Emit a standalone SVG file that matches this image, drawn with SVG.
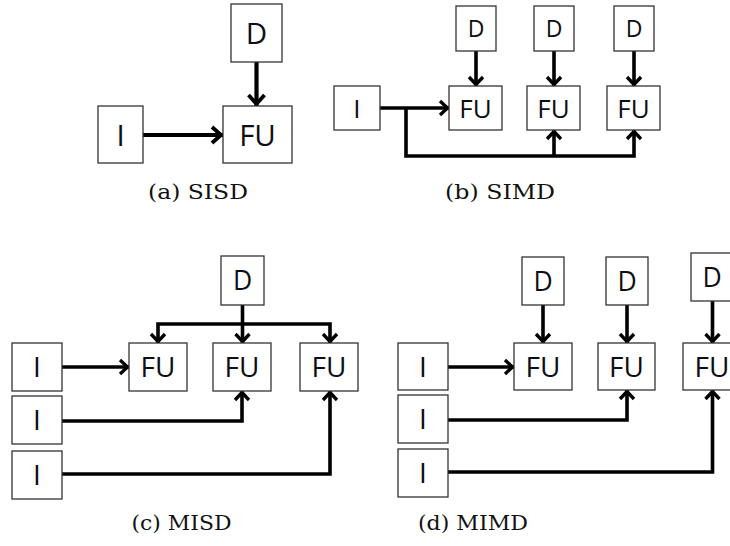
<svg xmlns="http://www.w3.org/2000/svg" width="730" height="546" viewBox="0 0 730 546">
<style>
.box{fill:#fff;stroke:#333;stroke-width:1.3}
.t{font-family:"Open Sans","Liberation Sans",sans-serif;fill:#0d0d14;text-anchor:middle}
.w{fill:none;stroke:#000;stroke-width:3.6}
.wl{fill:none;stroke:#000;stroke-width:4.2}
.cap{font-family:"DejaVu Serif","Liberation Serif",serif;font-size:20.5px;fill:#111;text-anchor:middle}
</style>
<defs>
<marker id="ah" markerUnits="userSpaceOnUse" viewBox="-14 -10 16 20" markerWidth="16" markerHeight="20" refX="0" refY="0" orient="auto-start-reverse">
<path d="M-9,-7 L-1.5,0 L-9,7" fill="none" stroke="#000" stroke-width="3.3"/>
</marker>
<marker id="ahL" markerUnits="userSpaceOnUse" viewBox="-16 -12 18 24" markerWidth="18" markerHeight="24" refX="0" refY="0" orient="auto">
<path d="M-11,-8 L-2,0 L-11,8" fill="none" stroke="#000" stroke-width="3.8"/>
</marker>
</defs>

<g id="connectors">
<!-- SISD -->
<line class="wl" x1="143" y1="135" x2="223" y2="135" marker-end="url(#ahL)"/>
<line class="wl" x1="256.5" y1="62" x2="256.5" y2="106" marker-end="url(#ahL)"/>
<!-- SIMD -->
<line class="w" x1="380" y1="108" x2="449" y2="108" marker-end="url(#ah)"/>
<path class="w" d="M406,108 V156 H634 V130" marker-end="url(#ah)"/>
<line class="w" x1="554" y1="156" x2="554" y2="130" marker-end="url(#ah)"/>
<line class="w" x1="476" y1="51" x2="476" y2="86" marker-end="url(#ah)"/>
<line class="w" x1="554" y1="51" x2="554" y2="86" marker-end="url(#ah)"/>
<line class="w" x1="634" y1="51" x2="634" y2="86" marker-end="url(#ah)"/>
<!-- MISD -->
<line class="w" x1="242.5" y1="305" x2="242.5" y2="343" marker-end="url(#ah)"/>
<path class="w" d="M158,343 V324 H330 V343" marker-start="url(#ah)" marker-end="url(#ah)"/>
<line class="w" x1="62" y1="367" x2="129" y2="367" marker-end="url(#ah)"/>
<path class="w" d="M62,421 H242 V391" marker-end="url(#ah)"/>
<path class="w" d="M62,474 H330 V391" marker-end="url(#ah)"/>
<!-- MIMD -->
<line class="w" x1="543" y1="305" x2="543" y2="343" marker-end="url(#ah)"/>
<line class="w" x1="627" y1="305" x2="627" y2="343" marker-end="url(#ah)"/>
<line class="w" x1="712.5" y1="301" x2="712.5" y2="343" marker-end="url(#ah)"/>
<line class="w" x1="448" y1="367" x2="514" y2="367" marker-end="url(#ah)"/>
<path class="w" d="M448,420 H627 V390" marker-end="url(#ah)"/>
<path class="w" d="M448,472 H712.5 V390" marker-end="url(#ah)"/>
</g>

<!-- SISD nodes -->
<g id="sisd-I"><rect class="box" x="98" y="106" width="45" height="57"/><text class="t" x="120.5" y="145.5" font-size="29.5">I</text></g>
<g id="sisd-FU"><rect class="box" x="223" y="106" width="69" height="57"/><text class="t" x="257.5" y="145.5" font-size="29.5">FU</text></g>
<g id="sisd-D"><rect class="box" x="231" y="4" width="51" height="58"/><text class="t" x="256.5" y="43.5" font-size="29.5">D</text></g>

<!-- SIMD nodes -->
<g id="simd-I"><rect class="box" x="334" y="86" width="46" height="44"/><text class="t" x="357" y="117.5" font-size="26">I</text></g>
<g id="simd-FU1"><rect class="box" x="449" y="86" width="53" height="44"/><text class="t" x="475.5" y="117.5" font-size="26">FU</text></g>
<g id="simd-FU2"><rect class="box" x="527" y="86" width="53" height="44"/><text class="t" x="553.5" y="117.5" font-size="26">FU</text></g>
<g id="simd-FU3"><rect class="box" x="607" y="86" width="53" height="44"/><text class="t" x="633.5" y="117.5" font-size="26">FU</text></g>
<g id="simd-D1"><rect class="box" x="456" y="6" width="40" height="45"/><text class="t" x="476" y="37" font-size="23">D</text></g>
<g id="simd-D2"><rect class="box" x="534" y="6" width="40" height="45"/><text class="t" x="554" y="37" font-size="23">D</text></g>
<g id="simd-D3"><rect class="box" x="614" y="6" width="40" height="45"/><text class="t" x="634" y="37" font-size="23">D</text></g>

<!-- MISD nodes -->
<g id="misd-D"><rect class="box" x="221" y="256" width="43" height="49"/><text class="t" x="242.5" y="290" font-size="26.5">D</text></g>
<g id="misd-FU1"><rect class="box" x="129" y="343" width="58" height="48"/><text class="t" x="158" y="377" font-size="28">FU</text></g>
<g id="misd-FU2"><rect class="box" x="213" y="343" width="58" height="48"/><text class="t" x="242" y="377" font-size="28">FU</text></g>
<g id="misd-FU3"><rect class="box" x="300" y="343" width="58" height="48"/><text class="t" x="329" y="377" font-size="28">FU</text></g>
<g id="misd-I1"><rect class="box" x="12" y="343" width="50" height="48"/><text class="t" x="37" y="377" font-size="28">I</text></g>
<g id="misd-I2"><rect class="box" x="12" y="396" width="50" height="48"/><text class="t" x="37" y="430" font-size="28">I</text></g>
<g id="misd-I3"><rect class="box" x="12" y="451" width="50" height="48"/><text class="t" x="37" y="485" font-size="28">I</text></g>

<!-- MIMD nodes -->
<g id="mimd-D1"><rect class="box" x="522" y="257" width="42" height="48"/><text class="t" x="543" y="290.5" font-size="26.5">D</text></g>
<g id="mimd-D2"><rect class="box" x="606" y="257" width="42" height="48"/><text class="t" x="627" y="290.5" font-size="26.5">D</text></g>
<g id="mimd-D3"><rect class="box" x="691" y="253" width="42" height="48"/><text class="t" x="712" y="286.5" font-size="26.5">D</text></g>
<g id="mimd-FU1"><rect class="box" x="514" y="343" width="58" height="47"/><text class="t" x="543" y="376.5" font-size="28">FU</text></g>
<g id="mimd-FU2"><rect class="box" x="598" y="343" width="57" height="47"/><text class="t" x="626.5" y="376.5" font-size="28">FU</text></g>
<g id="mimd-FU3"><rect class="box" x="683" y="343" width="58" height="47"/><text class="t" x="712" y="376.5" font-size="28">FU</text></g>
<g id="mimd-I1"><rect class="box" x="398" y="343" width="50" height="47"/><text class="t" x="423" y="376.5" font-size="28">I</text></g>
<g id="mimd-I2"><rect class="box" x="398" y="395" width="50" height="48"/><text class="t" x="423" y="429" font-size="28">I</text></g>
<g id="mimd-I3"><rect class="box" x="398" y="449" width="50" height="48"/><text class="t" x="423" y="483" font-size="28">I</text></g>

<!-- captions -->
<text class="cap" x="198" y="199" textLength="100" lengthAdjust="spacingAndGlyphs">(a) SISD</text>
<text class="cap" x="500" y="199" textLength="110" lengthAdjust="spacingAndGlyphs">(b) SIMD</text>
<text class="cap" x="181.5" y="530" textLength="100" lengthAdjust="spacingAndGlyphs">(c) MISD</text>
<text class="cap" x="473" y="530" textLength="110" lengthAdjust="spacingAndGlyphs">(d) MIMD</text>
</svg>
